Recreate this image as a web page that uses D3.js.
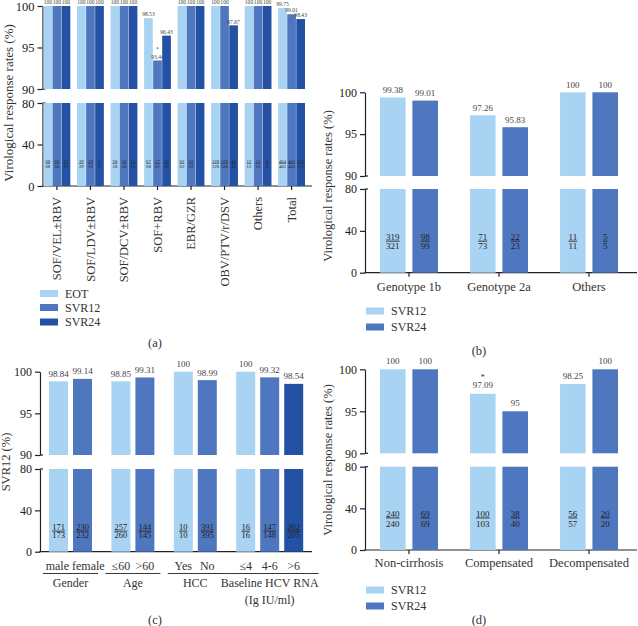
<!DOCTYPE html>
<html><head><meta charset="utf-8">
<script src="https://cdn.jsdelivr.net/npm/d3@7"></script>
<style>
body{margin:0;background:#fff}
</style>
</head><body><svg id="c" width="638" height="626" font-family="'Liberation Serif', 'DejaVu Serif', serif"></svg>
<script>
// ---------- DATA ----------
// Panel (a)
const regimens = ["SOF/VEL±RBV","SOF/LDV±RBV","SOF/DCV±RBV","SOF+RBV","EBR/GZR","OBV/PTV/r/DSV","Others","Total"];
const seriesA = ["EOT","SVR12","SVR24"];
const eotRateA   = [100,100,100,98.53,100,100,100,99.75];
const svr12RateA = [100,100,100,93.44,100,100,100,99.01];
const svr24RateA = [100,100,100,96.43,100,97.67,100,98.43];
const eotFracA   = ["68/68","39/39","28/28","67/68","62/62","128/128","12/12","404/405"];
const svr12FracA = ["68/68","39/39","28/28","57/61","62/62","128/128","12/12","401/405"];
const svr24FracA = ["17/17","6/6","15/15","27/28","","42/43","8/8","125/127"];
const starA = ["", "", "", "SVR12", "", "", "", ""];

// Panel (b)
const genotypes = ["Genotype 1b","Genotype 2a","Others"];
const seriesB = ["SVR12","SVR24"];
const svr12RateB = [99.38,97.26,100];
const svr24RateB = [99.01,95.83,100];
const svr12FracB = ["319/321","71/73","11/11"];
const svr24FracB = ["98/99","22/23","5/5"];

// Panel (c)
const subCats   = ["male","female","≤60",">60","Yes","No","≤4","4-6",">6"];
const subGroups = ["Gender","Gender","Age","Age","HCC","HCC","Baseline HCV RNA","Baseline HCV RNA","Baseline HCV RNA"];
const groupNames = ["Gender","Age","HCC","Baseline HCV RNA"];
const subRate = [98.84,99.14,98.85,99.31,100,98.99,100,99.32,98.54];
const subFrac = ["171/173","230/232","257/260","144/145","10/10","391/395","16/16","147/148","202/205"];
const subShade = [0,1,0,1,0,1,0,1,2];

// Panel (d)
const cirrhosis = ["Non-cirrhosis","Compensated","Decompensated"];
const svr12RateD = [100,97.09,98.25];
const svr24RateD = [100,95,100];
const svr12FracD = ["240/240","100/103","56/57"];
const svr24FracD = ["69/69","38/40","20/20"];
const starD = ["","SVR12",""];

const COLORS = ["#a9d3f3","#4f77c0","#2352a5"];
const INK = "#222";
const FONT = "'Liberation Serif', 'DejaVu Serif', serif";

const svg = d3.select("#c");

function T(g, size, fill){
  return g.append("text").style("font-family",FONT).style("font-size",size+"px").attr("fill",fill||"#333");
}

function brokenAxis(g, cfg){
  const top = d3.scaleLinear().domain([90,100]).range([cfg.y90, cfg.y100]);
  const bot = d3.scaleLinear().domain([0,80]).range([cfg.y0, cfg.y80]);
  const axT = d3.axisLeft(top).tickValues([90,95,100]).tickSize(5).tickSizeOuter(0).tickPadding(3).tickFormat(d3.format("d"));
  const axB = d3.axisLeft(bot).tickValues([0,40,80]).tickSize(5).tickSizeOuter(0).tickPadding(3).tickFormat(d3.format("d"));
  [axT, axB].forEach(ax=>{
    const a = g.append("g").attr("transform",`translate(${cfg.axisX},0)`).call(ax).attr("font-family",FONT);
    a.selectAll("path,line").attr("stroke",INK).attr("stroke-width",1.2);
    a.selectAll("text").attr("fill",INK).style("font-size",cfg.tickFont+"px").style("font-family",FONT);
  });
  g.append("line").attr("x1",cfg.axisX).attr("x2",cfg.axisX+3).attr("y1",top(90)).attr("y2",top(90)).attr("stroke",INK).attr("stroke-width",1.2);
  g.append("line").attr("x1",cfg.axisX).attr("x2",cfg.axisX+3).attr("y1",bot(80)).attr("y2",bot(80)).attr("stroke",INK).attr("stroke-width",1.2);
  g.append("line").attr("x1",cfg.axisX-0.6).attr("x2",cfg.xEnd).attr("y1",bot(0)).attr("y2",bot(0)).attr("stroke",INK).attr("stroke-width",1.2);
  (cfg.ticks||[]).forEach(t=>{
    g.append("line").attr("x1",t).attr("x2",t).attr("y1",bot(0)).attr("y2",bot(0)+4).attr("stroke",INK).attr("stroke-width",1.2);
  });
  T(g,cfg.titleFont||12.5).attr("transform",`translate(${cfg.titleX},${cfg.titleY}) rotate(-90)`)
    .attr("text-anchor","middle").text(cfg.title);
  return {top, bot};
}

function drawBars(g, items, sc, cfg){
  items.forEach(d=>{
    g.append("rect").attr("x",d.x).attr("width",d.w).attr("y",sc.top(d.v)).attr("height",sc.top(90)-sc.top(d.v))
      .attr("fill",d.color).attr("stroke","#fff").attr("stroke-width",cfg.strokeW||0);
    g.append("rect").attr("x",d.x).attr("width",d.w).attr("y",sc.bot(80)).attr("height",sc.bot(0)-sc.bot(80))
      .attr("fill",d.color).attr("stroke","#fff").attr("stroke-width",cfg.strokeW||0);
    const cx = d.x + d.w/2;
    T(g,cfg.valFont,"#444").attr("x",cx).attr("y",sc.top(d.v)-cfg.valGap).attr("text-anchor","middle").text(String(d.v));
    if(d.star){
      T(g,cfg.valFont,"#444").attr("x",cx).attr("y",sc.top(d.v)-cfg.starGap).attr("text-anchor","middle").text("*");
    }
    if(d.frac){
      const [n,m] = d.frac.split("/");
      T(g,cfg.fracFont,INK).attr("x",cx).attr("y",sc.bot(0)-cfg.numOff).attr("text-anchor","middle")
        .style("text-decoration","underline").text(n);
      T(g,cfg.fracFont,INK).attr("x",cx).attr("y",sc.bot(0)-cfg.denOff).attr("text-anchor","middle").text(m);
    }
  });
}

function legend(g, x, ys, names, cols, font){
  names.forEach((n,i)=>{
    g.append("rect").attr("x",x).attr("y",ys[i]-3.5).attr("width",18).attr("height",7).attr("fill",cols[i]);
    T(g,font).attr("x",x+25).attr("y",ys[i]).attr("dy","0.35em").text(n);
  });
}

// ---------- PANEL (a) ----------
{
  const g = svg.append("g");
  const xA = d3.scaleBand().domain(regimens).range([43.5,305]).paddingInner(0.2).paddingOuter(0);
  const xAin = d3.scaleBand().domain(seriesA).range([0,xA.bandwidth()]).paddingInner(0.04);
  const sc = brokenAxis(g,{axisX:42.5,y100:6,y90:89,y80:103,y0:186,xEnd:312,tickFont:12.5,titleFont:13,
    ticks:regimens.map(r=>xA(r)+xA.bandwidth()/2),titleX:13,titleY:103,title:"Virological response rates (%)"});
  const rates=[eotRateA,svr12RateA,svr24RateA], fracs=[eotFracA,svr12FracA,svr24FracA];
  const items=[];
  regimens.forEach((r,i)=>seriesA.forEach((s,j)=>items.push({x:xA(r)+xAin(s),w:xAin.bandwidth(),v:rates[j][i],
    frac:fracs[j][i],color:COLORS[j],star:starA[i]===s})));
  drawBars(g,items,sc,{valFont:5.6,valGap:1.8,starGap:9,fracFont:4.8,numOff:23.5,denOff:18});
  regimens.forEach(r=>{
    T(g,12.5).attr("transform",`translate(${xA(r)+xA.bandwidth()/2},197) rotate(-90)`)
      .attr("text-anchor","end").attr("dy","0.35em").text(r);
  });
  legend(g,40,[293.5,307.5,322],seriesA,COLORS,12);
  T(g,12.5).attr("x",155).attr("y",347).attr("text-anchor","middle").text("(a)");
}

// ---------- PANEL (b) ----------
{
  const g = svg.append("g");
  const xB = d3.scaleBand().domain(genotypes).range([380,618]).paddingInner(0.356).paddingOuter(0);
  const xBin = d3.scaleBand().domain(seriesB).range([0,xB.bandwidth()]).paddingInner(0.21);
  const sc = brokenAxis(g,{axisX:365,y100:92.3,y90:176,y80:189,y0:272.7,xEnd:637,tickFont:12,
    ticks:genotypes.map(c=>xB(c)+xB.bandwidth()/2),titleX:332,titleY:186,title:"Virological response rates (%)"});
  const rates=[svr12RateB,svr24RateB], fracs=[svr12FracB,svr24FracB];
  const items=[];
  genotypes.forEach((c,i)=>seriesB.forEach((s,j)=>items.push({x:xB(c)+xBin(s),w:xBin.bandwidth(),v:rates[j][i],
    frac:fracs[j][i],color:COLORS[j]})));
  drawBars(g,items,sc,{valFont:9,valGap:4.5,starGap:14,fracFont:9,numOff:33,denOff:23.5});
  genotypes.forEach(c=>{
    T(g,12.5).attr("x",xB(c)+xB.bandwidth()/2).attr("y",291).attr("text-anchor","middle").text(c);
  });
  legend(g,366,[311,327],seriesB,COLORS,12);
  T(g,12.5).attr("x",479).attr("y",355).attr("text-anchor","middle").text("(b)");
}

// ---------- PANEL (c) ----------
{
  const g = svg.append("g");
  const gi = subGroups.map(s=>groupNames.indexOf(s));
  const slot = d3.scaleLinear().domain([0,1]).range([49,73]);
  const bw = 19;
  const xs = subCats.map((c,i)=>slot(i+gi[i]*0.6));
  const sc = brokenAxis(g,{axisX:40,y100:371.7,y90:455,y80:469,y0:551.7,xEnd:312,tickFont:12,
    ticks:[],titleX:10,titleY:462,title:"SVR12 (%)"});
  const items = subCats.map((c,i)=>({x:xs[i],w:bw,v:subRate[i],frac:subFrac[i],color:COLORS[subShade[i]]}));
  drawBars(g,items,sc,{valFont:9,valGap:4.5,starGap:14,fracFont:8.5,numOff:22,denOff:13.5});
  // category labels; push apart neighbours that would collide
  const labels = subCats.map((c,i)=>T(g,12).attr("x",xs[i]+bw/2).attr("y",570).attr("text-anchor","middle").text(c));
  for(let i=0;i<subCats.length-1;i++){
    if(gi[i]!==gi[i+1]) continue;
    const w0 = labels[i].node().getComputedTextLength(), w1 = labels[i+1].node().getComputedTextLength();
    const c0 = xs[i]+bw/2, c1 = xs[i+1]+bw/2;
    if(c0+w0/2+2 > c1-w1/2){
      const mid = (xs[i]+bw + xs[i+1])/2;
      labels[i].attr("text-anchor","end").attr("x",mid-1.5);
      labels[i+1].attr("text-anchor","start").attr("x",mid+1.5);
    }
  }
  groupNames.forEach((n,k)=>{
    const idx = gi.map((v,i)=>v===k?i:-1).filter(i=>i>=0);
    const x0 = xs[idx[0]], x1 = xs[idx[idx.length-1]]+bw, cx=(x0+x1)/2;
    const t = T(g,12).attr("x",cx).attr("y",587).attr("text-anchor","middle").text(n);
    const tw = t.node().getComputedTextLength();
    const l = Math.min(x0-6, cx-tw/2), r = Math.max(x1+6, cx+tw/2);
    g.append("line").attr("x1",l).attr("x2",r).attr("y1",573.5).attr("y2",573.5).attr("stroke",INK).attr("stroke-width",0.9);
    if(k===3){
      T(g,12).attr("x",cx).attr("y",604).attr("text-anchor","middle").text("(Ig IU/ml)");
    }
  });
  T(g,12.5).attr("x",155).attr("y",624).attr("text-anchor","middle").text("(c)");
}

// ---------- PANEL (d) ----------
{
  const g = svg.append("g");
  const xD = d3.scaleBand().domain(cirrhosis).range([380,618]).paddingInner(0.356).paddingOuter(0);
  const xDin = d3.scaleBand().domain(seriesB).range([0,xD.bandwidth()]).paddingInner(0.21);
  const sc = brokenAxis(g,{axisX:365,y100:369.3,y90:453.3,y80:466.7,y0:550,xEnd:637,tickFont:12,
    ticks:cirrhosis.map(c=>xD(c)+xD.bandwidth()/2),titleX:332,titleY:460,title:"Virological response rates (%)"});
  const rates=[svr12RateD,svr24RateD], fracs=[svr12FracD,svr24FracD];
  const items=[];
  cirrhosis.forEach((c,i)=>seriesB.forEach((s,j)=>items.push({x:xD(c)+xDin(s),w:xDin.bandwidth(),v:rates[j][i],
    frac:fracs[j][i],color:COLORS[j],star:starD[i]===s})));
  drawBars(g,items,sc,{valFont:9,valGap:5.5,starGap:14,fracFont:9,numOff:33.5,denOff:23.5});
  cirrhosis.forEach(c=>{
    T(g,12.5).attr("x",xD(c)+xD.bandwidth()/2).attr("y",567).attr("text-anchor","middle").text(c);
  });
  legend(g,366,[590,606],seriesB,COLORS,12);
  T(g,12.5).attr("x",479).attr("y",624).attr("text-anchor","middle").text("(d)");
}
</script>
</body></html>
